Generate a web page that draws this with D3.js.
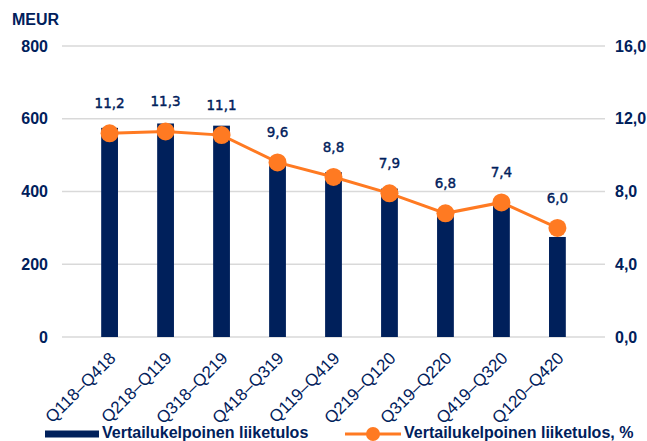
<!DOCTYPE html>
<html>
<head>
<meta charset="utf-8">
<script src="https://cdn.jsdelivr.net/npm/d3@7"></script>
<style>
  body { margin: 0; background: #fff; }
  svg { display: block; font-family: "Liberation Sans", Arial, sans-serif; }
</style>
</head>
<body>
<svg id="chart" width="647" height="441"></svg>
<script>
// Chart data
const periods = ["Q118\u2013Q418", "Q218\u2013Q119", "Q318\u2013Q219", "Q418\u2013Q319", "Q119\u2013Q419",
                 "Q219\u2013Q120", "Q319\u2013Q220", "Q419\u2013Q320", "Q120\u2013Q420"];
const operatingProfit = [575, 587, 581, 477, 453, 408, 340, 363, 275];
const operatingMargin = [11.2, 11.3, 11.1, 9.6, 8.8, 7.9, 6.8, 7.4, 6.0];
const leftTicks = [0, 200, 400, 600, 800];
const rightTicks = [0, 4, 8, 12, 16];

const navy = "#00205b";
const orange = "#ff7a22";
const fmt = v => v.toFixed(1).replace(".", ",");

const svg = d3.select("#chart");
const margin = { top: 46, right: 42, bottom: 104, left: 62 };
const width = +svg.attr("width") - margin.left - margin.right;
const height = +svg.attr("height") - margin.top - margin.bottom;

const g = svg.append("g").attr("transform", `translate(${margin.left},${margin.top})`);

const x = d3.scaleBand().domain(periods).range([0, width]).padding(0.7);
const yLeft = d3.scaleLinear().domain([0, 800]).range([height, 0]);
const yRight = d3.scaleLinear().domain([0, 16]).range([height, 0]);

// Gridlines
g.selectAll(".grid")
  .data(leftTicks)
  .enter().append("line")
  .attr("x1", 0).attr("x2", width)
  .attr("y1", d => yLeft(d)).attr("y2", d => yLeft(d))
  .attr("stroke", "#d9d9d9").attr("stroke-width", 1.5);

// Left axis
const leftAxis = g.append("g")
  .call(d3.axisLeft(yLeft).tickValues(leftTicks).tickSize(0).tickPadding(14));
leftAxis.select(".domain").remove();
leftAxis.selectAll("text")
  .attr("fill", navy).attr("font-size", 16).attr("font-weight", "bold")
  .attr("font-family", "'Liberation Sans', Arial, sans-serif");

// Right axis
const rightAxis = g.append("g")
  .attr("transform", `translate(${width},0)`)
  .call(d3.axisRight(yRight).tickValues(rightTicks).tickFormat(fmt).tickSize(0).tickPadding(10));
rightAxis.select(".domain").remove();
rightAxis.selectAll("text")
  .attr("fill", navy).attr("font-size", 16).attr("font-weight", "bold")
  .attr("font-family", "'Liberation Sans', Arial, sans-serif");

// Bottom axis
const bottomAxis = g.append("g")
  .attr("transform", `translate(0,${height})`)
  .call(d3.axisBottom(x).tickSize(0).tickPadding(0));
bottomAxis.select(".domain").remove();
bottomAxis.selectAll("text")
  .attr("fill", navy).attr("font-size", 17)
  .attr("font-family", "'Liberation Sans', Arial, sans-serif")
  .attr("text-anchor", "end")
  .attr("x", 0).attr("y", 0)
  .attr("dy", "0.35em")
  .attr("transform", "translate(3,18) rotate(-45)");

// Bars
g.selectAll(".bar")
  .data(operatingProfit)
  .enter().append("rect")
  .attr("x", (d, i) => x(periods[i]))
  .attr("y", d => yLeft(d))
  .attr("width", x.bandwidth())
  .attr("height", d => height - yLeft(d))
  .attr("fill", navy);

// Line
const cx = i => x(periods[i]) + x.bandwidth() / 2;
const line = d3.line().x((d, i) => cx(i)).y(d => yRight(d));
g.append("path")
  .datum(operatingMargin)
  .attr("d", line)
  .attr("fill", "none")
  .attr("stroke", orange)
  .attr("stroke-width", 3);

g.selectAll(".dot")
  .data(operatingMargin)
  .enter().append("circle")
  .attr("cx", (d, i) => cx(i))
  .attr("cy", d => yRight(d))
  .attr("r", 9)
  .attr("fill", orange);

g.selectAll(".lbl")
  .data(operatingMargin)
  .enter().append("text")
  .attr("x", (d, i) => cx(i))
  .attr("y", d => yRight(d) - 25)
  .attr("text-anchor", "middle")
  .attr("fill", navy)
  .attr("stroke", navy)
  .attr("stroke-width", 0.4)
  .attr("font-size", 13.5)
  .attr("font-family", "'DejaVu Sans', Verdana, sans-serif")
  .text(fmt);

// Unit label
svg.append("text")
  .attr("x", 12).attr("y", 25)
  .attr("fill", navy).attr("font-size", 16).attr("font-weight", "bold")
  .text("MEUR");

// Legend
const legend = svg.append("g").attr("transform", "translate(0,434)");
legend.append("rect")
  .attr("x", 45).attr("y", -3.5).attr("width", 54).attr("height", 7)
  .attr("fill", navy);
legend.append("text")
  .attr("x", 102).attr("y", 4)
  .attr("fill", navy).attr("font-size", 16).attr("font-weight", "bold")
  .text("Vertailukelpoinen liiketulos");
legend.append("line")
  .attr("x1", 345).attr("x2", 401).attr("y1", 0).attr("y2", 0)
  .attr("stroke", orange).attr("stroke-width", 3);
legend.append("circle")
  .attr("cx", 373).attr("cy", 0).attr("r", 7)
  .attr("fill", orange);
legend.append("text")
  .attr("x", 404).attr("y", 4)
  .attr("fill", navy).attr("font-size", 16).attr("font-weight", "bold")
  .text("Vertailukelpoinen liiketulos, %");
</script>
</body>
</html>
